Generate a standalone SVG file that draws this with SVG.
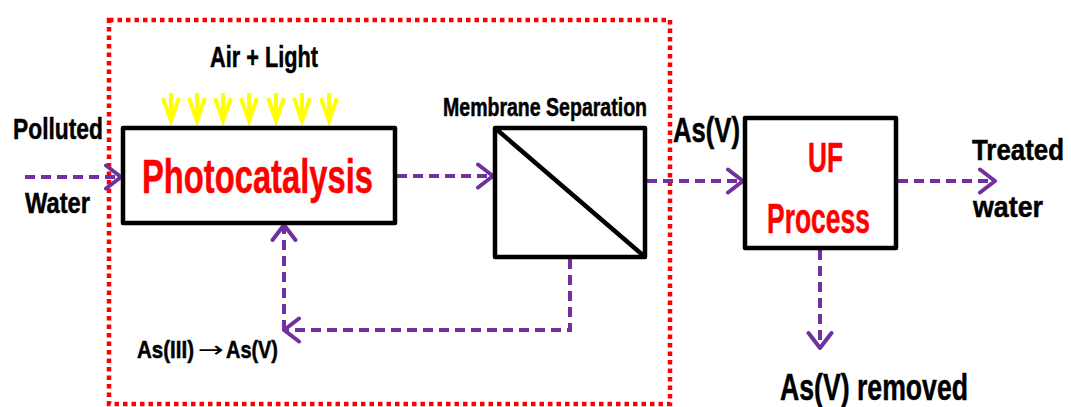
<svg xmlns="http://www.w3.org/2000/svg" width="1071" height="407" viewBox="0 0 1071 407">
<defs>
<style>
.t{font-family:"Liberation Sans Narrow","Liberation Sans",Arial,sans-serif;font-weight:bold;fill:#000;stroke:#000;stroke-width:0.5}
.red{fill:#FF0000;stroke:#FF0000}
.box{fill:#fff;stroke:#000;stroke-width:4.5;stroke-linejoin:round}
.flow{fill:none;stroke:#7030A0;stroke-width:4;stroke-dasharray:10 6}
.sun{fill:none;stroke:#FFFF00;stroke-width:4;stroke-linejoin:miter}
</style>
<marker id="arr" viewBox="0 0 22 28" markerWidth="22" markerHeight="28" refX="19" refY="14" orient="auto" markerUnits="userSpaceOnUse">
<path d="M4,2.5 L19,14 L4,25.5" fill="none" stroke="#7030A0" stroke-width="4" stroke-linecap="round" stroke-linejoin="round" stroke-dasharray="none"/>
</marker>
</defs>
<rect width="1071" height="407" fill="#fff"/>

<g id="boundary">
<rect x="109" y="20" width="561" height="384" fill="none" stroke="#FF0000" stroke-width="4.5" stroke-dasharray="4.5 4"/>
</g>

<g id="light">
<text class="t" x="210" y="67" font-size="30" textLength="108" lengthAdjust="spacingAndGlyphs">Air + Light</text>
<path class="sun" d="M171,93V120M163,98L171,121L179,98M197,93V120M189,98L197,121L205,98M223,93V120M215,98L223,121L231,98M249,93V120M241,98L249,121L257,98M276,93V120M268,98L276,121L284,98M302,93V120M294,98L302,121L310,98M329,93V120M321,98L329,121L337,98"/>
</g>

<g id="connectors">
<path class="flow" d="M25,177H121" marker-end="url(#arr)"/>
<path class="flow" d="M397,176H493" marker-end="url(#arr)"/>
<path class="flow" d="M647,181H743" marker-end="url(#arr)"/>
<path class="flow" d="M898,181H995" marker-end="url(#arr)"/>
<path class="flow" d="M820,250V348" marker-end="url(#arr)"/>
<path class="flow" d="M570,259V330H284" marker-end="url(#arr)"/>
<path class="flow" d="M284,330V225" marker-end="url(#arr)"/>
</g>

<g id="input">
<text class="t" x="13" y="139" font-size="30" textLength="90" lengthAdjust="spacingAndGlyphs">Polluted</text>
<text class="t" x="25" y="213" font-size="29" textLength="65" lengthAdjust="spacingAndGlyphs">Water</text>
</g>

<g id="photocatalysis">
<rect class="box" x="123" y="128" width="272" height="95"/>
<text class="t red" x="142" y="193" font-size="49" textLength="231" lengthAdjust="spacingAndGlyphs">Photocatalysis</text>
</g>

<g id="membrane">
<text class="t" x="443" y="116" font-size="25" textLength="204" lengthAdjust="spacingAndGlyphs">Membrane Separation</text>
<rect class="box" x="495" y="128" width="150" height="129"/>
<path d="M495,128L645,257" stroke="#000" stroke-width="4.5"/>
</g>

<g id="asv">
<text class="t" x="673" y="142" font-size="35" textLength="67" lengthAdjust="spacingAndGlyphs">As(V)</text>
</g>

<g id="uf">
<rect class="box" x="745" y="118" width="151" height="130"/>
<text class="t red" x="808" y="172" font-size="42" textLength="35" lengthAdjust="spacingAndGlyphs">UF</text>
<text class="t red" x="767" y="233" font-size="42" textLength="103" lengthAdjust="spacingAndGlyphs">Process</text>
</g>

<g id="treated">
<text class="t" x="972" y="160" font-size="29" textLength="92" lengthAdjust="spacingAndGlyphs">Treated</text>
<text class="t" x="973" y="217" font-size="29" textLength="70" lengthAdjust="spacingAndGlyphs">water</text>
</g>

<g id="removed">
<text class="t" x="780" y="400" font-size="37" textLength="188" lengthAdjust="spacingAndGlyphs">As(V) removed</text>
</g>

<g id="oxidation">
<text class="t" x="137" y="358" font-size="24" textLength="57" lengthAdjust="spacingAndGlyphs">As(III)</text>
<text x="198" y="357" font-family="'DejaVu Sans',sans-serif" font-size="22" textLength="26" lengthAdjust="spacingAndGlyphs" fill="#000">→</text>
<text class="t" x="226" y="358" font-size="24" textLength="52" lengthAdjust="spacingAndGlyphs">As(V)</text>
</g>
</svg>
